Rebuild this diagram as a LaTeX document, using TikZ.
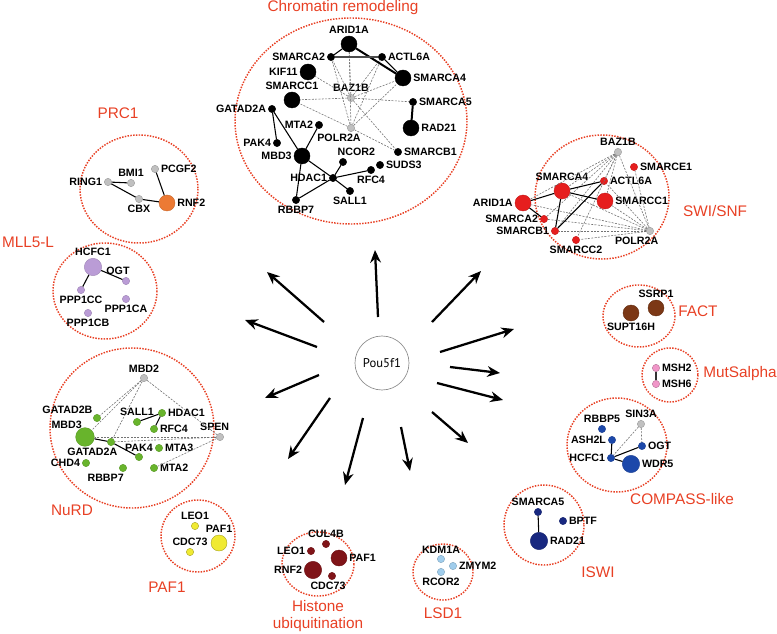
\documentclass[tikz,border=0pt]{standalone}
\usepackage{fontspec}
\setmainfont{Liberation Sans}
\newfontfamily\poufont{PT Sans}
\usepackage{xcolor}
\usetikzlibrary{arrows.meta}

\definecolor{clred}{RGB}{232,64,36}
\definecolor{nodegrey}{RGB}{192,192,192}
\definecolor{prcorange}{RGB}{236,122,52}
\definecolor{mlllilac}{RGB}{186,156,214}
\definecolor{swired}{RGB}{230,30,30}
\definecolor{factbrown}{RGB}{124,56,22}
\definecolor{mutpink}{RGB}{240,150,200}
\definecolor{nurdgreen}{RGB}{104,180,44}
\definecolor{compblue}{RGB}{28,72,170}
\definecolor{iswinavy}{RGB}{24,40,128}
\definecolor{lsdblue}{RGB}{160,205,236}
\definecolor{histred}{RGB}{128,20,24}
\definecolor{pafyellow}{RGB}{240,234,50}

\newcommand\lblfont{\fontsize{8}{9}\selectfont\bfseries}
\newcommand\ttlfont{\fontsize{11.5}{13}\selectfont}

\begin{document}
\begin{tikzpicture}[x=0.75pt,y=0.75pt,yscale=-1,xscale=1,
  prot/.style={circle,inner sep=0pt,minimum size=5.5pt,line width=0.3pt},
  bigp/.style={minimum size=12pt},
  grey/.style={fill=nodegrey,draw=nodegrey!80!black},
  crn/.style={fill=black,draw=black},
  prc/.style={fill=prcorange,draw=prcorange!85!black},
  mll/.style={fill=mlllilac,draw=mlllilac!85!black},
  swi/.style={fill=swired,draw=swired!85!black},
  fact/.style={fill=factbrown,draw=factbrown!80!black},
  mut/.style={fill=mutpink,draw=mutpink!75!black},
  nurd/.style={fill=nurdgreen,draw=nurdgreen!85!black},
  comp/.style={fill=compblue,draw=compblue!85!black},
  iswi/.style={fill=iswinavy,draw=iswinavy!85!black},
  lsd/.style={fill=lsdblue,draw=lsdblue!80!black},
  hist/.style={fill=histred,draw=histred!85!black},
  paf/.style={fill=pafyellow,draw=pafyellow!70!black},
  every label/.style={font=\lblfont,inner sep=0.6pt,text=black},
  label distance=0.8pt,
  cluster/.style={draw=clred,densely dotted,line width=1.1pt},
  ctitle/.style={text=clred,font=\ttlfont,inner sep=0pt,align=center},
  link/.style={line width=0.8pt},
  heavy/.style={line width=1.5pt},
  weak/.style={draw=black!55,dash pattern=on 1.5pt off 1pt,line width=0.45pt},
  pouarrow/.style={line width=1.7pt,-{Stealth[length=9.5pt,width=8pt]}}]
\useasboundingbox (0,0) rectangle (777,634);

%Shape: Cluster outlines
\draw[cluster] (351,121) ellipse (116 and 103);
\draw[cluster] (139,189) ellipse (59 and 54);
\draw[cluster] (105,291) ellipse (52 and 48);
\draw[cluster] (602,197) ellipse (67 and 62);
\draw[cluster] (639,316) ellipse (36 and 31);
\draw[cluster] (670,375) ellipse (28 and 27);
\draw[cluster] (132,428) ellipse (82 and 80);
\draw[cluster] (617,445) ellipse (50 and 47);
\draw[cluster] (544,525) ellipse (40 and 40);
\draw[cluster] (443,572) ellipse (30 and 28);
\draw[cluster] (318,564) ellipse (36 and 32);
\draw[cluster] (198,536) ellipse (37 and 36);

% Text Node: cluster titles
\node[ctitle] (tCR) at (343,8) {Chromatin remodeling};
\node[ctitle] (tPRC) at (118,113) {PRC1};
\node[ctitle] (tMLL) at (28,242) {MLL5-L};
\node[ctitle] (tSWI) at (715,211) {SWI/SNF};
\node[ctitle] (tFACT) at (698,311) {FACT};
\node[ctitle] (tMUT) at (740,374) {MutSalpha};
\node[ctitle] (tNURD) at (72,510) {NuRD};
\node[ctitle] (tCOMP) at (682,499) {COMPASS-like};
\node[ctitle] (tISWI) at (598,572) {ISWI};
\node[ctitle] (tLSD) at (443,613) {LSD1};
\node[ctitle] (tHIST) at (318,616) {Histone\\ubiquitination};
\node[ctitle] (tPAF) at (167,587) {PAF1};

% Chromatin remodeling
\node[prot,crn,bigp,label=above:ARID1A] (crARID1A) at (349,44) {};
\node[prot,crn,label=left:SMARCA2] (crSMARCA2) at (331,57) {};
\node[prot,crn,label=right:ACTL6A] (crACTL6A) at (382,57) {};
\node[prot,crn,bigp,label=left:KIF11] (crKIF11) at (308,72) {};
\node[prot,crn,bigp,label=above:SMARCC1] (crSMARCC1) at (292,100) {};
\node[prot,crn,bigp,label=right:SMARCA4] (crSMARCA4) at (403,78) {};
\node[prot,grey,label=above:BAZ1B] (crBAZ1B) at (351,98) {};
\node[prot,crn,label=right:SMARCA5] (crSMARCA5) at (413,102) {};
\node[prot,crn,label=left:GATAD2A] (crGATAD2A) at (272,109) {};
\node[prot,crn,label=left:MTA2] (crMTA2) at (319,125) {};
\node[prot,crn,bigp,label=right:RAD21] (crRAD21) at (411,128) {};
\node[prot,grey,label={[xshift=-9pt]below:POLR2A}] (crPOLR2A) at (351,128) {};
\node[prot,crn,label=left:PAK4] (crPAK4) at (277,143) {};
\node[prot,crn,label={[xshift=10pt]above:NCOR2}] (crNCOR2) at (343,162) {};
\node[prot,crn,label=right:SMARCB1] (crSMARCB1) at (398,152) {};
\node[prot,crn,bigp,label=left:MBD3] (crMBD3) at (302,156) {};
\node[prot,crn,label=right:SUDS3] (crSUDS3) at (380,165) {};
\node[prot,crn,label=below:RFC4] (crRFC4) at (371,170) {};
\node[prot,crn,label=left:HDAC1] (crHDAC1) at (333,178) {};
\node[prot,crn,label=below:SALL1] (crSALL1) at (350,191) {};
\node[prot,crn,label=below:RBBP7] (crRBBP7) at (296,200) {};
\foreach \n in {ARID1A,SMARCA2,ACTL6A,SMARCA4,KIF11,SMARCC1,SMARCA5,SMARCB1}
  \draw[weak] (crBAZ1B) -- (cr\n);
\foreach \n in {ARID1A,SMARCA2,ACTL6A,SMARCA4,SMARCC1,SMARCB1}
  \draw[weak] (crPOLR2A) -- (cr\n);
\draw[link] (crARID1A) -- (crSMARCA2);
\draw[heavy] (crARID1A) -- (crSMARCA4);
\draw[link,black!70] (crSMARCA2) -- (crACTL6A);
\draw[link] (crACTL6A) -- (crSMARCA4);
\draw[heavy] (crSMARCA5) -- (crRAD21);
\draw[link] (crGATAD2A) -- (crPAK4);
\draw[link] (crGATAD2A) -- (crMBD3);
\draw[link] (crMTA2) -- (crMBD3);
\draw[link] (crMBD3) -- (crHDAC1);
\draw[link] (crMBD3) -- (crRBBP7);
\draw[link] (crHDAC1) -- (crRBBP7);
\foreach \n in {NCOR2,RFC4,SALL1}
  \draw[link] (crHDAC1) -- (cr\n);

% PRC1
\node[prot,grey,label=left:RING1] (prRING1) at (108,182) {};
\node[prot,grey,label=above:BMI1] (prBMI1) at (131,183) {};
\node[prot,grey,label=right:PCGF2] (prPCGF2) at (155,169) {};
\node[prot,grey,label=below:CBX] (prCBX) at (139,199) {};
\node[prot,prc,bigp,label=right:RNF2] (prRNF2) at (167,203) {};
\draw[link] (prRING1) -- (prBMI1);
\draw[link] (prRING1) -- (prCBX);
\draw[link] (prCBX) -- (prRNF2);
\draw[link] (prPCGF2) -- (prRNF2);

% MLL5-L
\node[prot,mll,bigp,minimum size=13pt,label=above:HCFC1] (mlHCFC1) at (93,267) {};
\node[prot,mll,label={[xshift=-6pt]above:OGT}] (mlOGT) at (126,281) {};
\node[prot,mll,label=below:PPP1CC] (mlPPP1CC) at (81,290) {};
\node[prot,mll,label=below:PPP1CA] (mlPPP1CA) at (126,299) {};
\node[prot,mll,label=below:PPP1CB] (mlPPP1CB) at (88,313) {};
\draw[link] (mlHCFC1) -- (mlOGT);
\draw[link] (mlHCFC1) -- (mlPPP1CC);

% SWI/SNF
\node[prot,grey,label=above:BAZ1B] (swBAZ1B) at (618,152) {};
\node[prot,swi,label=right:SMARCE1] (swSMARCE1) at (634,167) {};
\node[prot,swi,bigp,label=above:SMARCA4] (swSMARCA4) at (562,191) {};
\node[prot,swi,label=right:ACTL6A] (swACTL6A) at (604,181) {};
\node[prot,swi,bigp,label=right:SMARCC1] (swSMARCC1) at (605,201) {};
\node[prot,swi,bigp,label=left:ARID1A] (swARID1A) at (523,203) {};
\node[prot,swi,label=left:SMARCA2] (swSMARCA2) at (544,219) {};
\node[prot,swi,label=left:SMARCB1] (swSMARCB1) at (555,231) {};
\node[prot,swi,label=below:SMARCC2] (swSMARCC2) at (576,240) {};
\node[prot,grey,label={[xshift=-10pt]below:POLR2A}] (swPOLR2A) at (650,231) {};
\foreach \n in {ARID1A,SMARCA4,ACTL6A,SMARCC1,SMARCA2,SMARCB1,SMARCC2,POLR2A}
  \draw[weak] (swBAZ1B) -- (sw\n);
\foreach \n in {ARID1A,SMARCA4,SMARCC1,SMARCA2,SMARCB1,SMARCC2,ACTL6A,SMARCE1}
  \draw[weak] (swPOLR2A) -- (sw\n);
\draw[link] (swARID1A) -- (swSMARCA4);
\draw[link] (swSMARCA4) -- (swACTL6A);
\draw[link] (swSMARCA4) -- (swSMARCC1);
\draw[link] (swSMARCA4) -- (swSMARCB1);
\draw[link] (swACTL6A) -- (swSMARCB1);
\draw[link] (swARID1A) -- (swSMARCA2);

% FACT
\node[prot,fact,bigp,label=above:SSRP1] (faSSRP1) at (656,308) {};
\node[prot,fact,bigp,label=below:SUPT16H] (faSUPT16H) at (631,313) {};

% MutSalpha
\node[prot,mut,label=right:MSH2] (muMSH2) at (656,368) {};
\node[prot,mut,label=right:MSH6] (muMSH6) at (656,384) {};
\draw[link,black!80] (muMSH2) -- (muMSH6);

% NuRD
\node[prot,grey,label=above:MBD2] (nuMBD2) at (144,378) {};
\node[prot,nurd,label=above left:GATAD2B] (nuGATAD2B) at (97,418) {};
\node[prot,nurd,label=above:SALL1] (nuSALL1) at (137,422) {};
\node[prot,nurd,label=right:HDAC1] (nuHDAC1) at (162,413) {};
\node[prot,nurd,label=right:RFC4] (nuRFC4) at (154,429) {};
\node[prot,grey,label={[xshift=-4pt]above:SPEN}] (nuSPEN) at (220,437) {};
\node[prot,nurd,bigp,minimum size=14pt,label={[xshift=4pt]above left:MBD3}] (nuMBD3) at (85,437) {};
\node[prot,nurd,label={[xshift=-14pt]below:GATAD2A}] (nuGATAD2A) at (111,442) {};
\node[prot,nurd,label=above:PAK4] (nuPAK4) at (139,457) {};
\node[prot,nurd,label=right:MTA3] (nuMTA3) at (159,448) {};
\node[prot,nurd,label=left:CHD4] (nuCHD4) at (86,463) {};
\node[prot,nurd,label={[xshift=-13pt]below:RBBP7}] (nuRBBP7) at (123,468) {};
\node[prot,nurd,label=right:MTA2] (nuMTA2) at (154,468) {};
\foreach \n in {MBD3,GATAD2B,GATAD2A,SPEN}
  \draw[weak] (nuMBD2) -- (nu\n);
\foreach \n in {MBD3,GATAD2A,MTA2}
  \draw[weak] (nuSPEN) -- (nu\n);
\draw[link] (nuMBD3) -- (nuGATAD2A);
\draw[link] (nuGATAD2A) -- (nuPAK4);
\draw[link] (nuSALL1) -- (nuHDAC1);
\draw[link] (nuHDAC1) -- (nuRFC4);

% COMPASS-like
\node[prot,comp,label=above:RBBP5] (coRBBP5) at (602,429) {};
\node[prot,grey,label=above:SIN3A] (coSIN3A) at (641,424) {};
\node[prot,comp,label=left:ASH2L] (coASH2L) at (612,440) {};
\node[prot,comp,label=right:OGT] (coOGT) at (642,446) {};
\node[prot,comp,label=left:HCFC1] (coHCFC1) at (611,458) {};
\node[prot,comp,bigp,minimum size=13pt,label=right:WDR5] (coWDR5) at (631,464) {};
\draw[weak] (coSIN3A) -- (coHCFC1);
\draw[weak] (coSIN3A) -- (coOGT);
\draw[link] (coASH2L) -- (coHCFC1);
\draw[link] (coHCFC1) -- (coOGT);
\draw[link] (coHCFC1) -- (coWDR5);

% ISWI
\node[prot,iswi,label=above:SMARCA5] (isSMARCA5) at (538,512) {};
\node[prot,iswi,label=right:BPTF] (isBPTF) at (563,521) {};
\node[prot,iswi,bigp,minimum size=13pt,label=right:RAD21] (isRAD21) at (539,541) {};
\draw[link] (isSMARCA5) -- (isRAD21);

% LSD1
\node[prot,lsd,label=above:KDM1A] (lsKDM1A) at (441,559) {};
\node[prot,lsd,label=right:ZMYM2] (lsZMYM2) at (453,566) {};
\node[prot,lsd,label=below:RCOR2] (lsRCOR2) at (441,572) {};

% Histone ubiquitination
\node[prot,hist,label=above:CUL4B] (hiCUL4B) at (326,544) {};
\node[prot,hist,label=left:LEO1] (hiLEO1) at (311,551) {};
\node[prot,hist,bigp,label=right:PAF1] (hiPAF1) at (339,558) {};
\node[prot,hist,bigp,minimum size=13pt,label=left:RNF2] (hiRNF2) at (313,570) {};
\node[prot,hist,label={[xshift=-3pt]below:CDC73}] (hiCDC73) at (332,576) {};

% PAF1
\node[prot,paf,label=above:LEO1] (paLEO1) at (195,526) {};
\node[prot,paf,bigp,label=above:PAF1] (paPAF1) at (219,543) {};
\node[prot,paf,label=above:CDC73] (paCDC73) at (190,552) {};

% Pou5f1 and its arrows
\node[circle,draw=black!45,line width=0.5pt,minimum size=40.5pt,inner sep=0pt,font=\poufont\fontsize{9.5}{11}\selectfont] (pou) at (382,363) {Pou5f1};
\coordinate (s1) at (378,317);  \coordinate (e1) at (375,250);
\coordinate (s2) at (324,322);  \coordinate (e2) at (267,272);
\coordinate (s3) at (317,347);  \coordinate (e3) at (245,320);
\coordinate (s4) at (319,375);  \coordinate (e4) at (265,398);
\coordinate (s5) at (330,398);  \coordinate (e5) at (288,459);
\coordinate (s6) at (363,418);  \coordinate (e6) at (345,485);
\coordinate (s7) at (401,427);  \coordinate (e7) at (410,471);
\coordinate (s8) at (432,412);  \coordinate (e8) at (468,443);
\coordinate (s9) at (437,383);  \coordinate (e9) at (503,400);
\coordinate (s10) at (450,367); \coordinate (e10) at (500,373);
\coordinate (s11) at (440,352); \coordinate (e11) at (514,329);
\coordinate (s12) at (432,322); \coordinate (e12) at (481,271);
\foreach \i in {1,...,12}
  \draw[pouarrow] (s\i) -- (e\i);

\end{tikzpicture}
\end{document}
